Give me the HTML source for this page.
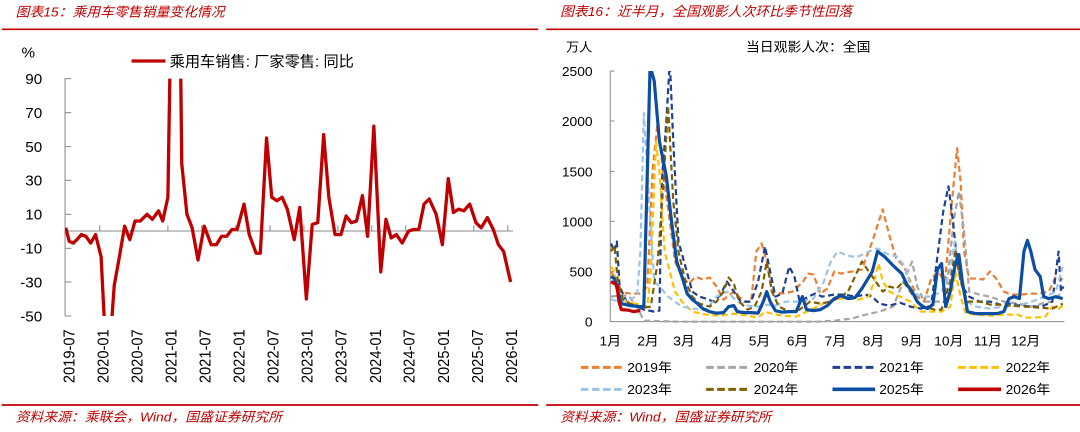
<!DOCTYPE html>
<html><head><meta charset="utf-8"><style>
html,body{margin:0;padding:0;background:#fff;width:1080px;height:432px;overflow:hidden}
svg{display:block;position:absolute;top:0}
text{font-family:"Liberation Sans","Noto Sans CJK SC",sans-serif;fill:#000}
.t{fill:#c00000;font-style:italic;font-size:40px}
.tk{font-size:44px}
</style></head><body>
<svg style="left:0" width="540" height="432" viewBox="0 0 1560 1296" preserveAspectRatio="none">
<defs><clipPath id="c1"><rect x="188" y="236" width="1300" height="712"/></clipPath></defs>
<text class="t" x="45" y="50">图表15：乘用车零售销量变化情况</text>
<line x1="5" y1="88" x2="1555" y2="88" stroke="#c00000" stroke-width="5"/>
<text class="tk" x="62" y="172">%</text>
<line x1="380" y1="183" x2="478" y2="183" stroke="#c00000" stroke-width="10"/>
<text class="tk" x="490" y="200">乘用车销售: 厂家零售: 同比</text>
<g stroke="#888" stroke-width="3">
<line x1="188" y1="234" x2="188" y2="948"/>
<line x1="188" y1="236" x2="206" y2="236"/><line x1="188" y1="338" x2="206" y2="338"/>
<line x1="188" y1="440" x2="206" y2="440"/><line x1="188" y1="541" x2="206" y2="541"/>
<line x1="188" y1="643" x2="206" y2="643"/><line x1="188" y1="745" x2="206" y2="745"/>
<line x1="188" y1="846" x2="206" y2="846"/><line x1="188" y1="948" x2="206" y2="948"/>
<line x1="188" y1="693" x2="1482" y2="693"/>
<line x1="288" y1="676" x2="288" y2="693"/><line x1="386" y1="676" x2="386" y2="693"/>
<line x1="485" y1="676" x2="485" y2="693"/><line x1="583" y1="676" x2="583" y2="693"/>
<line x1="681" y1="676" x2="681" y2="693"/><line x1="780" y1="676" x2="780" y2="693"/>
<line x1="878" y1="676" x2="878" y2="693"/><line x1="976" y1="676" x2="976" y2="693"/>
<line x1="1074" y1="676" x2="1074" y2="693"/><line x1="1172" y1="676" x2="1172" y2="693"/>
<line x1="1271" y1="676" x2="1271" y2="693"/><line x1="1369" y1="676" x2="1369" y2="693"/>
<line x1="1467" y1="676" x2="1467" y2="693"/>
</g>
<g class="tk" text-anchor="end">
<text x="122" y="252">90</text><text x="122" y="354">70</text><text x="122" y="456">50</text>
<text x="122" y="557">30</text><text x="122" y="659">10</text><text x="122" y="761">-10</text>
<text x="122" y="862">-30</text><text x="122" y="964">-50</text>
</g>
<g class="tk" text-anchor="end">
<text transform="translate(215,988) rotate(-90)">2019-07</text>
<text transform="translate(313,988) rotate(-90)">2020-01</text>
<text transform="translate(411,988) rotate(-90)">2020-07</text>
<text transform="translate(510,988) rotate(-90)">2021-01</text>
<text transform="translate(608,988) rotate(-90)">2021-07</text>
<text transform="translate(706,988) rotate(-90)">2022-01</text>
<text transform="translate(805,988) rotate(-90)">2022-07</text>
<text transform="translate(903,988) rotate(-90)">2023-01</text>
<text transform="translate(1001,988) rotate(-90)">2023-07</text>
<text transform="translate(1100,988) rotate(-90)">2024-01</text>
<text transform="translate(1198,988) rotate(-90)">2024-07</text>
<text transform="translate(1297,988) rotate(-90)">2025-01</text>
<text transform="translate(1395,988) rotate(-90)">2025-07</text>
<text transform="translate(1493,988) rotate(-90)">2026-01</text>
</g>
<g clip-path="url(#c1)"><g transform="translate(0,693.6) scale(1,-5.085)">
<polyline fill="none" stroke="#c00000" stroke-width="3.3" vector-effect="non-scaling-stroke" stroke-linejoin="round" points="190,2 200,-6 212,-7 222,-5 235,-2 248,-3 262,-7 276,-2 292,-15 302,-55 322,-55 330,-32 345,-15 360,3 375,-5 390,6 405,6 425,10 440,7 458,12 470,6 485,20 491,95 522,95 525,40 540,10 555,2 572,-17 590,3 610,-8 625,-8 640,-3 655,-3 670,1 685,1 705,16 720,-2 740,-13 752,-13 770,55 785,20 800,18 815,20 830,13 850,-5 866,14 885,-40 902,4 918,5 935,57 950,20 968,-2 985,-2 1000,9 1015,5 1030,6 1047,21 1062,-3 1080,62 1100,-24 1115,7 1130,-4 1145,-2 1162,-7 1180,0 1195,1 1210,1 1225,16 1240,19 1260,10 1278,-8 1295,31 1310,11 1325,13 1340,12 1357,16 1375,5 1390,2 1408,8 1425,1 1440,-8 1455,-12 1475,-30"/>
</g></g>
<line x1="5" y1="1215" x2="1555" y2="1215" stroke="#c00000" stroke-width="5"/>
<text class="t" x="45" y="1264">资料来源：乘联会，Wind，国盛证券研究所</text>
</svg>

<svg style="left:540px" width="540" height="432" viewBox="0 0 1560 1296" preserveAspectRatio="none">
<defs><clipPath id="c2"><rect x="203" y="213" width="1320" height="760"/></clipPath></defs>
<text class="t" x="58" y="48">图表16：近半月，全国观影人次环比季节性回落</text>
<line x1="18" y1="88" x2="1565" y2="88" stroke="#c00000" stroke-width="5"/>
<text x="75" y="155" style="font-size:38px">万人</text>
<text x="595" y="155" style="font-size:40px">当日观影人次：全国</text>
<g stroke="#888" stroke-width="3">
<line x1="203" y1="213" x2="203" y2="966"/><line x1="203" y1="965" x2="1515" y2="965"/>
<line x1="203" y1="213" x2="215" y2="213"/><line x1="203" y1="363" x2="215" y2="363"/>
<line x1="203" y1="514" x2="215" y2="514"/><line x1="203" y1="664" x2="215" y2="664"/>
<line x1="203" y1="815" x2="215" y2="815"/>
</g>
<g class="tk" text-anchor="end" style="font-size:40px">
<text x="152" y="228">2500</text><text x="152" y="378">2000</text><text x="152" y="529">1500</text>
<text x="152" y="679">1000</text><text x="152" y="830">500</text><text x="152" y="980">0</text>
</g>
<g text-anchor="middle" style="font-size:40px">
<text x="203" y="1037">1月</text><text x="312" y="1037">2月</text><text x="416" y="1037">3月</text>
<text x="526" y="1037">4月</text><text x="634" y="1037">5月</text><text x="744" y="1037">6月</text>
<text x="853" y="1037">7月</text><text x="963" y="1037">8月</text><text x="1074" y="1037">9月</text>
<text x="1181" y="1037">10月</text><text x="1294" y="1037">11月</text><text x="1403" y="1037">12月</text>
</g>
<g clip-path="url(#c2)"><g transform="translate(0,965) scale(1,-0.3008)" fill="none" stroke-linejoin="round">
<g stroke-width="2.2" stroke-dasharray="6,3.5">
<polyline vector-effect="non-scaling-stroke" stroke="#ed7d31" points="205,500 215,450 225,300 260,280 290,280 310,350 325,1500 340,2000 355,1500 375,1000 390,600 410,450 430,380 450,450 470,420 490,440 510,350 530,220 560,300 590,200 610,200 625,700 640,780 655,600 670,300 700,280 730,300 760,400 775,480 790,470 810,280 830,330 850,500 870,480 900,500 930,520 960,800 990,1120 1010,850 1030,620 1050,560 1070,400 1090,250 1110,200 1130,430 1150,500 1170,400 1190,1200 1205,1730 1215,1400 1225,700 1240,430 1260,430 1280,420 1300,500 1320,420 1340,300 1360,270 1390,270 1420,280 1440,280 1470,300 1490,450 1510,420"/>
<polyline vector-effect="non-scaling-stroke" stroke="#a5a5a5" points="205,250 230,260 255,260 280,150 300,10 400,0 800,0 850,10 900,30 940,70 980,100 1020,150 1050,400 1075,600 1090,350 1110,200 1140,200 1170,200 1195,1000 1210,1300 1225,900 1240,300 1270,270 1300,250 1340,200 1380,180 1420,150 1450,180 1480,200 1510,300"/>
<polyline vector-effect="non-scaling-stroke" stroke="#1f3f8f" points="205,780 215,700 222,800 230,350 250,200 300,120 330,100 345,110 352,1400 365,2000 375,2600 385,1800 400,800 420,550 440,300 460,250 480,230 500,200 520,260 540,400 560,300 580,200 610,200 630,400 650,750 665,500 680,250 700,280 720,550 735,450 750,200 775,250 795,280 815,250 850,270 880,270 910,250 940,270 960,250 980,180 1010,160 1040,190 1070,150 1100,130 1130,160 1150,700 1165,1100 1180,1350 1193,1000 1205,600 1220,350 1240,250 1270,200 1300,200 1330,170 1360,180 1390,160 1420,150 1450,150 1480,200 1498,700 1505,300 1512,350"/>
<polyline vector-effect="non-scaling-stroke" stroke="#ffc000" points="205,550 215,500 225,250 250,200 290,170 310,150 320,500 335,1800 345,1500 360,700 375,500 390,300 410,200 440,100 480,70 520,60 560,80 600,60 630,40 650,100 670,80 700,60 740,50 770,100 800,150 830,200 860,230 890,230 920,220 950,250 965,400 978,580 990,400 1010,300 1040,250 1070,200 1100,100 1130,100 1160,100 1185,150 1200,500 1215,250 1230,80 1260,70 1300,60 1340,70 1380,70 1400,40 1430,40 1460,50 1480,150 1500,130 1512,170"/>
<polyline vector-effect="non-scaling-stroke" stroke="#9dc3e6" points="205,220 230,200 260,230 280,250 290,700 300,2080 315,1200 330,400 345,350 370,250 390,200 410,150 440,130 480,120 510,250 540,300 570,200 600,160 630,150 650,170 680,160 710,200 750,200 790,230 820,400 840,600 860,700 880,670 900,650 920,650 950,700 975,730 1000,680 1030,650 1055,550 1075,300 1100,250 1130,250 1160,300 1185,500 1198,800 1210,500 1230,200 1260,150 1300,130 1340,150 1380,160 1420,200 1460,250 1490,300 1510,550"/>
<polyline vector-effect="non-scaling-stroke" stroke="#7f6000" points="205,700 215,760 225,400 240,220 270,160 300,140 320,150 340,600 355,1300 370,2150 385,1200 400,700 420,400 440,250 460,180 490,150 510,200 530,300 545,440 560,380 575,200 600,120 620,150 640,300 655,600 670,300 690,150 720,100 750,120 780,200 810,180 840,200 870,250 890,300 910,450 930,600 950,500 970,400 990,300 1010,350 1030,330 1050,400 1070,300 1090,200 1110,150 1140,120 1160,120 1185,400 1200,700 1215,400 1235,200 1270,200 1300,170 1330,170 1360,160 1400,150 1440,140 1480,130 1510,180"/>
</g>
<polyline vector-effect="non-scaling-stroke" stroke="#0b4ea2" stroke-width="3.2" points="205,450 215,430 225,300 235,180 260,160 290,150 300,150 318,2550 330,2400 345,1800 365,1450 380,1000 395,600 410,450 425,280 440,220 455,180 470,130 490,100 510,85 530,90 545,150 560,160 570,100 590,90 610,90 630,85 645,200 655,300 665,200 680,110 700,95 720,100 740,100 758,250 770,120 790,110 810,120 830,160 850,230 870,260 890,230 910,240 930,330 960,500 975,700 995,650 1020,560 1045,480 1060,370 1075,300 1090,200 1105,150 1120,130 1135,170 1148,520 1160,580 1172,150 1185,300 1200,580 1210,670 1220,400 1235,100 1260,80 1290,80 1320,80 1340,100 1355,230 1370,250 1385,230 1398,700 1408,810 1418,700 1430,520 1445,450 1455,250 1470,230 1490,250 1510,230"/>
<polyline vector-effect="non-scaling-stroke" stroke="#c00000" stroke-width="3.2" points="205,400 215,380 222,370 228,200 235,120 255,115 270,100 290,110"/>
</g></g>
<g stroke-width="9" fill="none">
<line x1="118" y1="1102" x2="240" y2="1102" stroke="#ed7d31" stroke-dasharray="22,10"/>
<line x1="480" y1="1102" x2="605" y2="1102" stroke="#a5a5a5" stroke-dasharray="22,10"/>
<line x1="845" y1="1102" x2="968" y2="1102" stroke="#1f3f8f" stroke-dasharray="22,10"/>
<line x1="1208" y1="1102" x2="1332" y2="1102" stroke="#ffc000" stroke-dasharray="22,10"/>
<line x1="118" y1="1168" x2="240" y2="1168" stroke="#9dc3e6" stroke-dasharray="22,10"/>
<line x1="480" y1="1168" x2="605" y2="1168" stroke="#7f6000" stroke-dasharray="22,10"/>
<line x1="845" y1="1168" x2="968" y2="1168" stroke="#0b4ea2" stroke-width="11"/>
<line x1="1208" y1="1168" x2="1332" y2="1168" stroke="#c00000" stroke-width="11"/>
</g>
<g style="font-size:40px">
<text x="252" y="1116">2019年</text><text x="617" y="1116">2020年</text>
<text x="980" y="1116">2021年</text><text x="1345" y="1116">2022年</text>
<text x="252" y="1182">2023年</text><text x="617" y="1182">2024年</text>
<text x="980" y="1182">2025年</text><text x="1345" y="1182">2026年</text>
</g>
<line x1="18" y1="1215" x2="1565" y2="1215" stroke="#c00000" stroke-width="5"/>
<text class="t" x="58" y="1264">资料来源：Wind，国盛证券研究所</text>
</svg>
</body></html>
